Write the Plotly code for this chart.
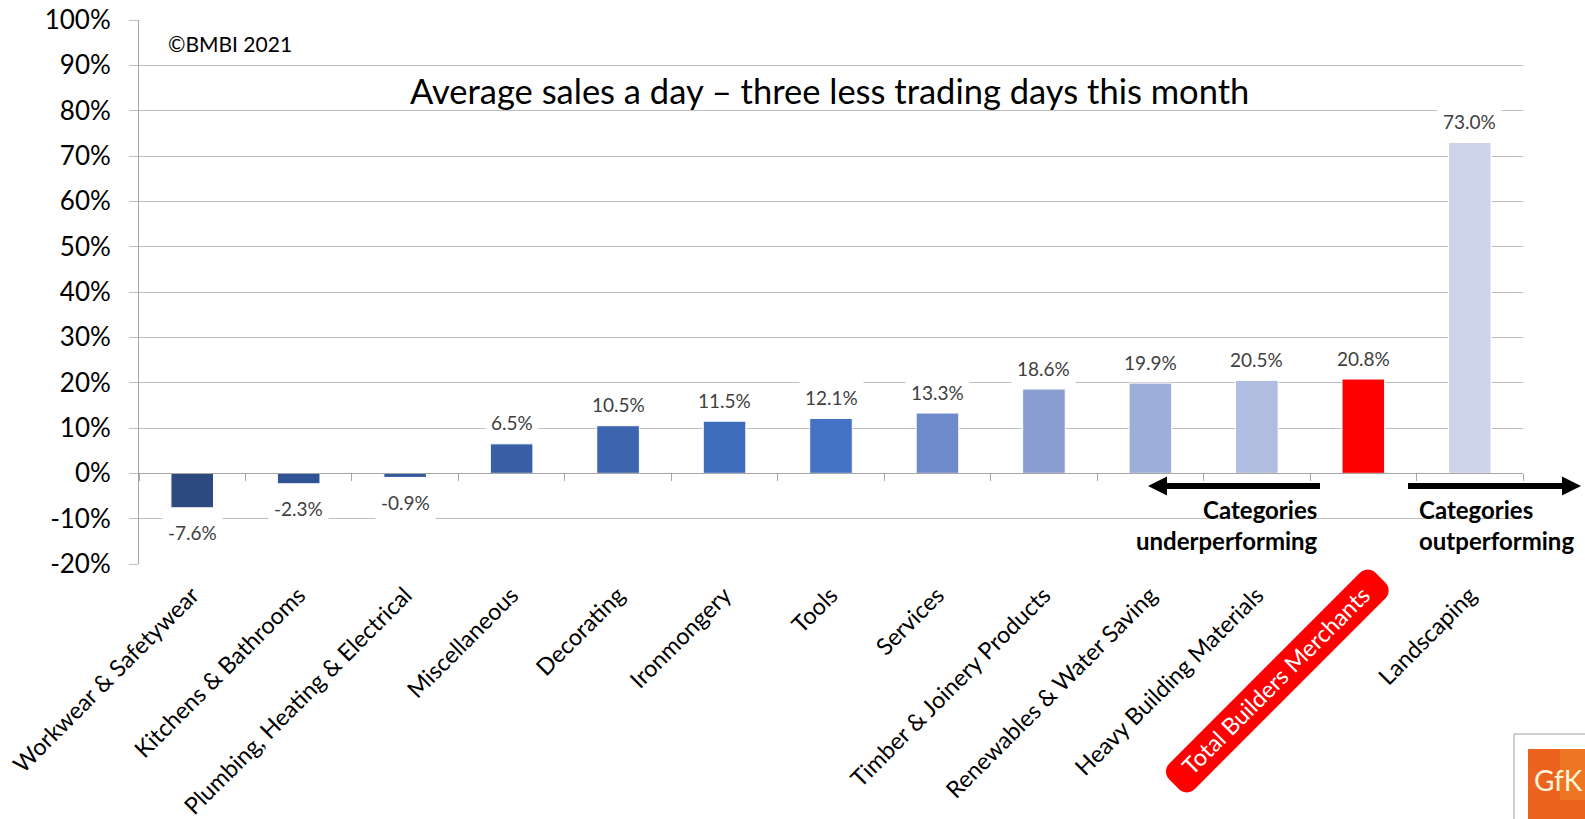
import math
import plotly.graph_objects as go

# ---- data -------------------------------------------------------------
categories = [
    "Workwear & Safetywear",
    "Kitchens & Bathrooms",
    "Plumbing, Heating & Electrical",
    "Miscellaneous",
    "Decorating",
    "Ironmongery",
    "Tools",
    "Services",
    "Timber & Joinery Products",
    "Renewables & Water Saving",
    "Heavy Building Materials",
    "Total Builders Merchants",
    "Landscaping",
]
growth_pct = [-7.6, -2.3, -0.9, 6.5, 10.5, 11.5, 12.1, 13.3, 18.6, 19.9, 20.5, 20.8, 73.0]
bar_colors = [
    "#2C4A7E", "#2F5496", "#34589D", "#385EA6", "#3C64AF", "#3F6CBC", "#4472C4",
    "#6E8ACA", "#8A9ED2", "#9DAED8", "#B0BDE0", "#FF0000", "#CDD4EA",
]
highlight = "Total Builders Merchants"

y_tickvals = [-20, -10, 0, 10, 20, 30, 40, 50, 60, 70, 80, 90, 100]
y_ticktext = ["-20%", "-10%", "0%", "10%", "20%", "30%", "40%", "50%",
              "60%", "70%", "80%", "90%", "100%"]

title_text = "Average sales a day \u2013 three less trading days this month"
copyright_text = "\u00a9BMBI 2021"

# ---- page geometry ----------------------------------------------------
W, H = 1585, 819
ML, MR, MT, MB = 139, 62, 20, 255
PW, PH = W - ML - MR, H - MT - MB
FONT = "Lato, Carlito, 'Open Sans', sans-serif"
GRID = "#BFBFBF"
AXIS = "#A6A6A6"
y_min, y_max = y_tickvals[0], y_tickvals[-1]


def px_x(px):
    return (px - ML) / PW


def px_y(py):
    return (H - MB - py) / PH


# ---- figure -----------------------------------------------------------
fig = go.Figure()

fig.add_trace(go.Bar(
    x=categories, y=growth_pct,
    marker=dict(color=bar_colors, line=dict(color="white", width=1)),
    width=0.4, hoverinfo="x+y", showlegend=False,
))

# invisible companion trace so the zero-line axis knows the categories
fig.add_trace(go.Scatter(
    x=categories, y=growth_pct, xaxis="x2", mode="none",
    hoverinfo="skip", showlegend=False,
))

tick_labels = [
    f"<span style='color:white'>{c}</span>" if c == highlight else c
    for c in categories
]

fig.update_layout(
    width=W, height=H, autosize=False,
    margin=dict(l=ML, r=MR, t=MT, b=MB, pad=0, autoexpand=False),
    paper_bgcolor="white", plot_bgcolor="white",
    font=dict(family=FONT, color="#000000"),
    bargap=0.6,
    xaxis=dict(
        type="category", categoryorder="array", categoryarray=categories,
        tickmode="array", tickvals=categories, ticktext=tick_labels,
        tickangle=-45, tickfont=dict(size=23.4, color="#000000", family=FONT),
        showgrid=False, showline=False, ticks="", zeroline=False,
        ticklabelstandoff=12, automargin=False,
    ),
    xaxis2=dict(
        type="category", categoryorder="array", categoryarray=categories,
        overlaying="x", matches="x", anchor="free",
        position=(0 - y_min) / (y_max - y_min),
        showline=True, linecolor=AXIS, linewidth=1,
        ticks="outside", ticklen=7, tickcolor=AXIS, tickson="boundaries",
        showticklabels=False, showgrid=False, zeroline=False, automargin=False,
    ),
    yaxis=dict(
        range=[y_min, y_max], tickmode="array",
        tickvals=y_tickvals, ticktext=y_ticktext,
        tickfont=dict(size=26, color="#000000", family=FONT),
        showgrid=True, gridcolor=GRID, gridwidth=1,
        showline=True, linecolor=AXIS, linewidth=1,
        ticks="outside", ticklen=9, tickcolor=GRID,
        zeroline=False, ticklabelstandoff=13, automargin=False,
    ),
)

annotations = []

# value labels on a white box that interrupts the gridlines
for cat, v in zip(categories, growth_pct):
    annotations.append(dict(
        x=cat, y=v, xref="x", yref="y", text=f"{v:.1f}%",
        showarrow=False, xanchor="center", yanchor="middle",
        yshift=21 if v >= 0 else -25,
        bgcolor="white", borderpad=5,
        font=dict(size=19, color="#404040", family=FONT),
    ))

annotations.append(dict(
    x=px_x(829), y=px_y(90), xref="paper", yref="paper", text=title_text,
    showarrow=False, xanchor="center", yanchor="middle",
    font=dict(size=34.5, color="#000000", family=FONT),
))
annotations.append(dict(
    x=px_x(166), y=px_y(44), xref="paper", yref="paper", text=copyright_text,
    showarrow=False, xanchor="left", yanchor="middle",
    font=dict(size=21, color="#000000", family=FONT),
))
annotations.append(dict(
    x=px_x(1320), y=px_y(525), xref="paper", yref="paper",
    text="<b>Categories</b><br><b>underperforming</b>",
    showarrow=False, xanchor="right", yanchor="middle", align="right",
    font=dict(size=24, color="#000000", family=FONT),
))
annotations.append(dict(
    x=px_x(1417), y=px_y(525), xref="paper", yref="paper",
    text="<b>Categories</b><br><b>outperforming</b>",
    showarrow=False, xanchor="left", yanchor="middle", align="left",
    font=dict(size=24, color="#000000", family=FONT),
))
annotations.append(dict(
    x=px_x(1532), y=px_y(780), xref="paper", yref="paper", text="GfK",
    showarrow=False, xanchor="left", yanchor="middle",
    font=dict(size=28, color="#FFF4DC", family=FONT),
))

shapes = []


def paper_path(points):
    return "M " + " L ".join(f"{px_x(a):.5f},{px_y(b):.5f}" for a, b in points) + " Z"


# direction arrows below the zero line
arrow_y = 486
shapes.append(dict(type="line", xref="paper", yref="paper",
                   x0=px_x(1164), x1=px_x(1320), y0=px_y(arrow_y), y1=px_y(arrow_y),
                   line=dict(color="black", width=6)))
shapes.append(dict(type="path", xref="paper", yref="paper",
                   path=paper_path([(1148, arrow_y), (1167, arrow_y - 9.5), (1167, arrow_y + 9.5)]),
                   fillcolor="black", line=dict(width=0)))
shapes.append(dict(type="line", xref="paper", yref="paper",
                   x0=px_x(1408), x1=px_x(1565), y0=px_y(arrow_y), y1=px_y(arrow_y),
                   line=dict(color="black", width=6)))
shapes.append(dict(type="path", xref="paper", yref="paper",
                   path=paper_path([(1581, arrow_y), (1562, arrow_y - 9.5), (1562, arrow_y + 9.5)]),
                   fillcolor="black", line=dict(width=0)))

# rounded red badge behind the highlighted category label
hi = categories.index(highlight)
cx_badge = ML + (hi + 0.5) * PW / len(categories) - 86
cy_badge = H - MB + 117
blen, bwid, rad = 292, 36, 11
ux, uy = math.cos(math.radians(45)), -math.sin(math.radians(45))
vx, vy = -uy, ux
pts = []
corners = [(1, 1), (-1, 1), (-1, -1), (1, -1)]
start_angles = [0, 90, 180, 270]
for (sa, sb), a0 in zip(corners, start_angles):
    ca = sa * (blen / 2 - rad)
    cb = sb * (bwid / 2 - rad)
    for k in range(7):
        ang = math.radians(a0 + 15 * k)
        la = ca + rad * math.cos(ang)
        lb = cb + rad * math.sin(ang)
        pts.append((cx_badge + la * ux + lb * vx, cy_badge + la * uy + lb * vy))
shapes.append(dict(type="path", xref="paper", yref="paper", layer="below",
                   path=paper_path(pts), fillcolor="#FF0000", line=dict(width=0)))

# logo tile in the corner
shapes.append(dict(type="rect", xref="paper", yref="paper",
                   x0=px_x(1514), x1=px_x(1600), y0=px_y(734), y1=px_y(830),
                   line=dict(color="#BFBFBF", width=1.5), fillcolor="white"))
shapes.append(dict(type="rect", xref="paper", yref="paper",
                   x0=px_x(1528), x1=px_x(1600), y0=px_y(749), y1=px_y(830),
                   line=dict(width=0), fillcolor="#EC6320"))
shapes.append(dict(type="rect", xref="paper", yref="paper",
                   x0=px_x(1560), x1=px_x(1600), y0=px_y(749), y1=px_y(800),
                   line=dict(width=0), fillcolor="#F07E22", opacity=0.7))

fig.update_layout(annotations=annotations, shapes=shapes)

fig.write_html("out.html")
